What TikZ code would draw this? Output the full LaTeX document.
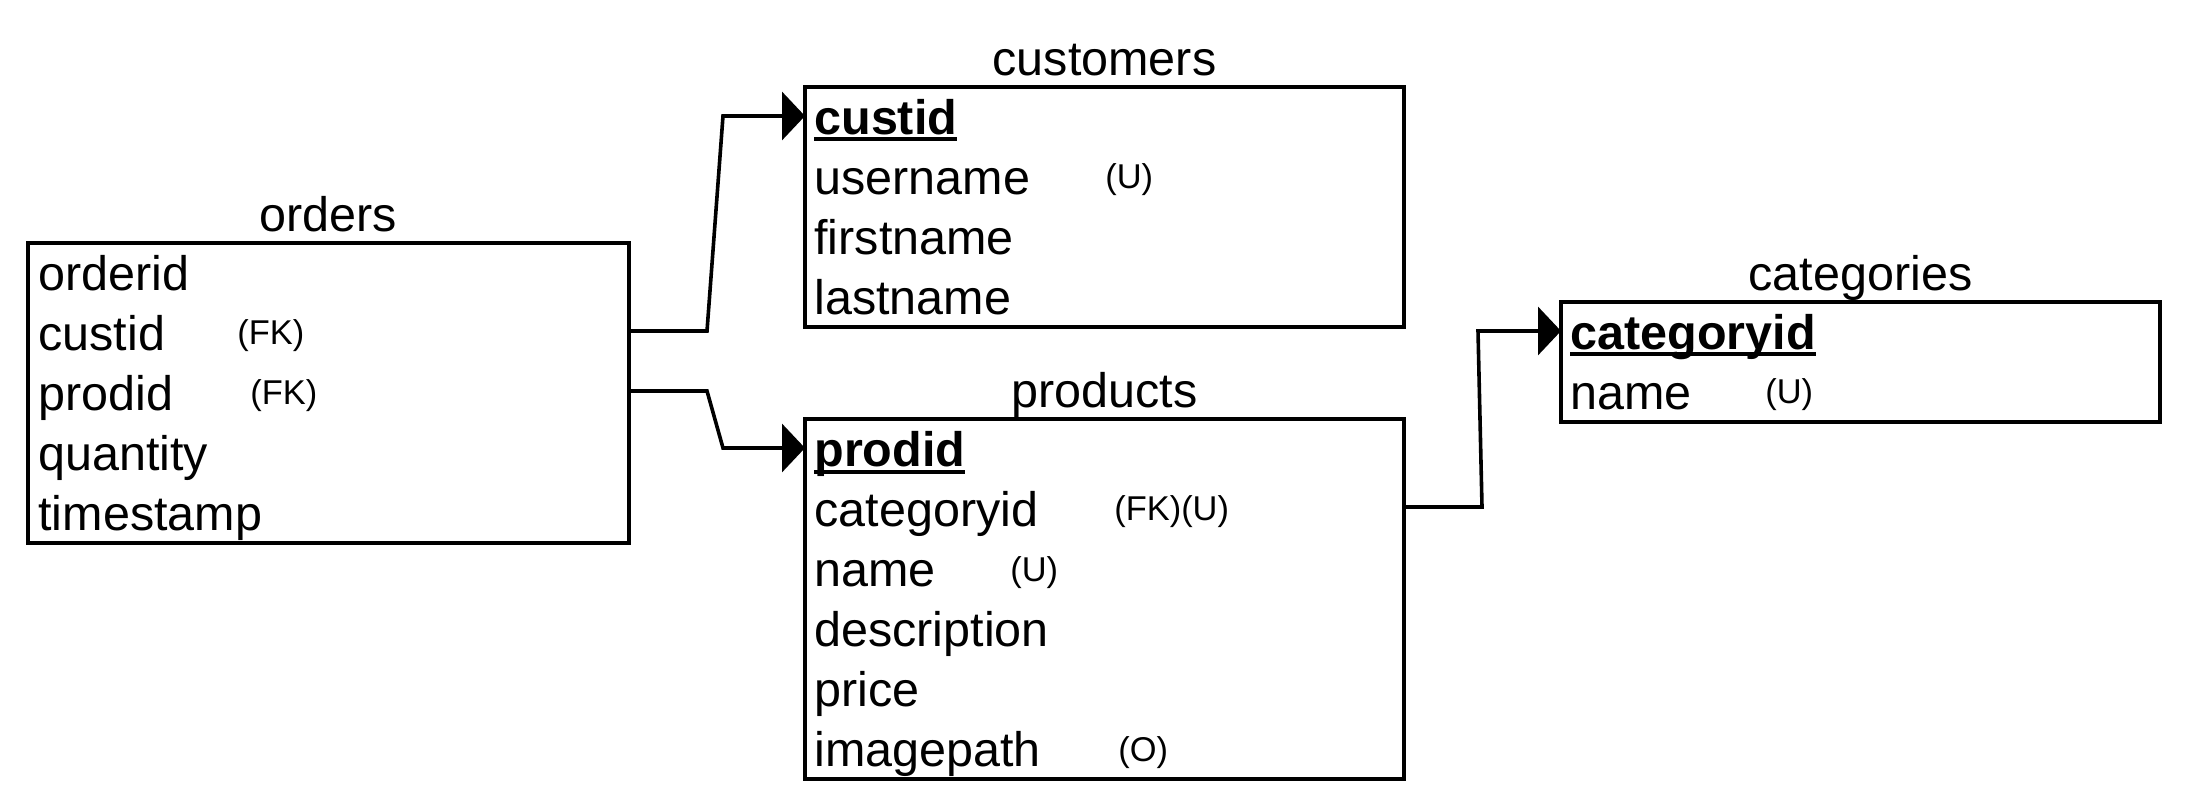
\documentclass[tikz,border=0pt]{standalone}
\usepackage{fontspec}
\setmainfont{Liberation Sans}
\usetikzlibrary{arrows.meta}
\newcommand{\pkey}[1]{\setbox0\hbox{\bfseries #1}\rlap{\rule[-3.5pt]{\wd0}{2pt}}\box0}
\tikzset{
  tbl/.style={draw=black, line width=2.2pt, anchor=north west, inner sep=0pt, outer sep=0pt},
  tbltitle/.style={anchor=base, inner sep=0pt, font=\fontsize{24.25pt}{29pt}\selectfont},
  fld/.style={anchor=west, inner sep=0pt, text height=17.5pt, text depth=0pt, font=\fontsize{24.25pt}{29pt}\selectfont},
  note/.style={anchor=west, inner sep=0pt, text height=12.6pt, text depth=3.6pt, font=\fontsize{17.2pt}{20pt}\selectfont},
  fklink/.style={draw=black, line width=1.8pt, -{Triangle[length=11.5pt,width=24pt]}}
}
\begin{document}
\begin{tikzpicture}[x=0.5pt, y=-0.5pt]
  \useasboundingbox (0,0) rectangle (2188,806);

  \node[tbl, minimum width=300.5pt, minimum height=150pt] (orders) at (28,243) {};
  \node[tbl, minimum width=299.5pt, minimum height=120pt] (customers) at (805,87) {};
  \node[tbl, minimum width=299.5pt, minimum height=180pt] (products) at (805,419) {};
  \node[tbl, minimum width=299.5pt, minimum height=60pt] (categories) at (1561,302) {};

  \node[tbltitle] (t-orders) at ([yshift=5.5pt]orders.north) {orders};
  \node[tbltitle] (t-customers) at ([yshift=5.5pt]customers.north) {customers};
  \node[tbltitle] (t-products) at ([yshift=5.5pt]products.north) {products};
  \node[tbltitle] (t-categories) at ([yshift=5.5pt]categories.north) {categories};

  \node[fld] (o-orderid) at (38,273) {orderid};
  \node[fld] (o-custid) at (38,333) {custid};
  \node[fld] (o-prodid) at (38,393) {prodid};
  \node[fld] (o-quantity) at (38,453) {quantity};
  \node[fld] (o-timestamp) at (38,513) {timestamp};
  \node[note] (o-custid-fk) at (237,336) {(FK)};
  \node[note] (o-prodid-fk) at (250,396) {(FK)};

  \node[fld] (c-custid) at (814,117) {\pkey{custid}};
  \node[fld] (c-username) at (814,177) {username};
  \node[fld] (c-firstname) at (814,237) {firstname};
  \node[fld] (c-lastname) at (814,297) {lastname};
  \node[note] (c-username-u) at (1105,180) {(U)};

  \node[fld] (p-prodid) at (814,449) {\pkey{prodid}};
  \node[fld] (p-categoryid) at (814,509) {categoryid};
  \node[fld] (p-name) at (814,569) {name};
  \node[fld] (p-description) at (814,629) {description};
  \node[fld] (p-price) at (814,689) {price};
  \node[fld] (p-imagepath) at (814,749) {imagepath};
  \node[note] (p-categoryid-fku) at (1114,512) {(FK)(U)};
  \node[note] (p-name-u) at (1010,572) {(U)};
  \node[note] (p-imagepath-o) at (1118,752) {(O)};

  \node[fld] (g-categoryid) at (1570,332) {\pkey{categoryid}};
  \node[fld] (g-name) at (1570,392) {name};
  \node[note] (g-name-u) at (1765,395) {(U)};

  \coordinate (b1) at (707,331);
  \coordinate (b2) at (723,116);
  \coordinate (b3) at (707,391);
  \coordinate (b4) at (723,448);
  \coordinate (b5) at (1482,507);
  \coordinate (b6) at (1478,331);

  \draw[fklink] (orders.east |- b1) -- (b1) -- (b2) -- (customers.west |- b2);
  \draw[fklink] (orders.east |- b3) -- (b3) -- (b4) -- (products.west |- b4);
  \draw[fklink] (products.east |- b5) -- (b5) -- (b6) -- (categories.west |- b6);
\end{tikzpicture}
\end{document}
